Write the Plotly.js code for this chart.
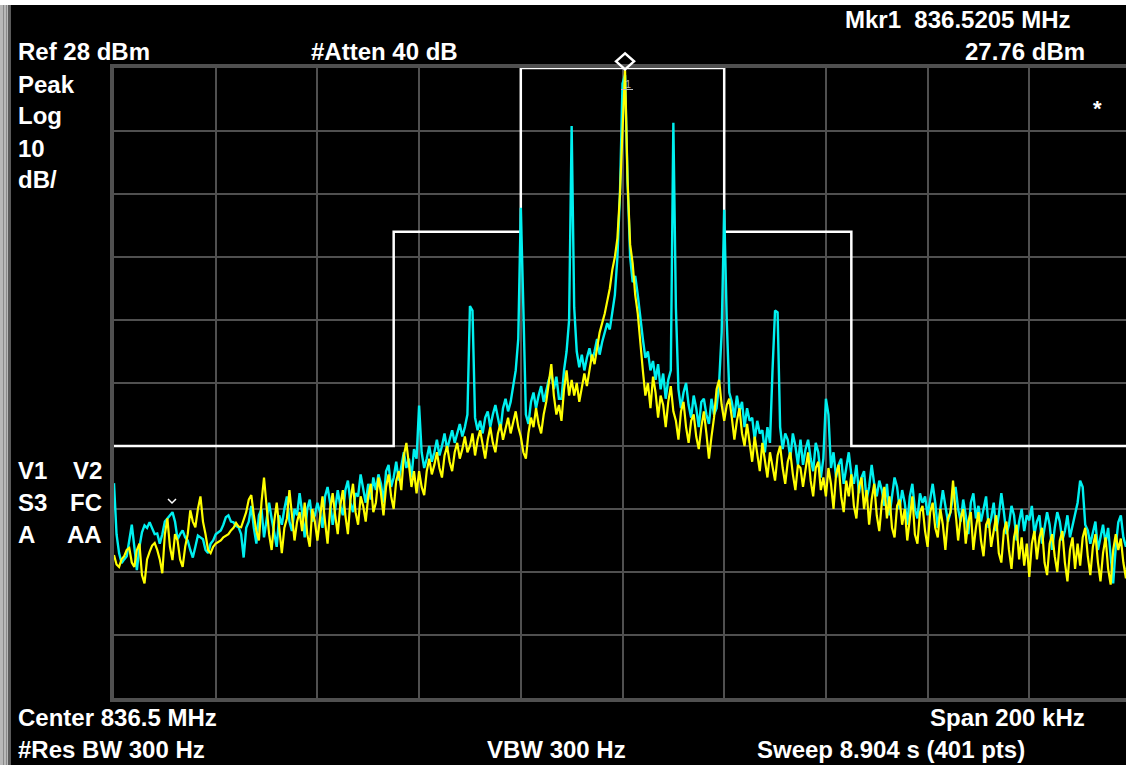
<!DOCTYPE html>
<html><head><meta charset="utf-8">
<script src="https://cdn.plot.ly/plotly-3.0.1.min.js"></script>
<style>html,body{margin:0;padding:0;background:#000;overflow:hidden}#chart{width:1126px;height:765px}</style>
</head><body><div id="chart"></div>
<script>
// ---- analyzer settings ----
const centerMHz = 836.52;      // true centre (shown rounded as 836.5 MHz)
const spanKHz = 200;
const sweepPoints = 401;
const refLevel = 28;
const dbPerDiv = 10;

// ---- trace data (dBm), 401 sweep points ----
const trace2Cyan = [
-37.9,-46,-49,-50.6,-50,-49.5,-47,-44.5,-48,-51.7,
-48,-45.7,-44.6,-45,-44.1,-45.2,-46,-45.9,-47.5,-46,
-44,-43.5,-43,-42.5,-44,-46.8,-46,-45.4,-46.5,-47,
-48.5,-49.7,-48,-46.2,-46.5,-46.8,-48.5,-49,-47.5,-47,
-46,-45.7,-45.4,-44.5,-43.3,-43,-44,-44.1,-44.7,-44.9,
-46,-49.7,-45,-44,-41.5,-45,-47.5,-43,-42,-46.5,
-44,-41,-43.5,-46,-48,-43,-44.5,-42,-40,-44,
-45.5,-42,-43,-39.5,-42.5,-46.5,-42,-40.5,-44,-43,
-41,-42.5,-45,-40,-38.5,-41,-44.5,-42,-39,-41.5,
-43,-39,-37.5,-41,-42.5,-39.5,-40,-36.5,-39,-41,
-38,-40.5,-37,-39,-36.5,-38,-41,-36,-35,-38.5,
-37,-34.5,-37.5,-35,-33,-35.5,-34,-37,-32.5,-34,
-25.6,-33,-35.5,-34,-32,-34.5,-33,-31,-33.5,-32,
-30,-32.5,-31,-29.5,-31.5,-30,-28.5,-30.5,-29,-27,
-9.8,-10.5,-27.5,-29.5,-28,-30,-27.5,-26.5,-29,-27,
-25.5,-27.5,-29.5,-26,-24.5,-26.5,-25,-22.5,-20,-15,
5.8,-10,-27,-28.5,-25,-23.5,-26,-24,-22.5,-25,
-23,-21.5,-20.5,-23,-21,-24.5,-24.5,-20,-17,-12,
18.8,-10,-17,-19.5,-17.5,-20,-18,-16.5,-18.5,-17,
-15,-17.5,-15.5,-14,-12.5,-13.5,-11,-8,-2,8,
25.5,26.9,10,-2,-6,-5,-8,-12,-15,-18,
-17,-20,-18.5,-21.5,-19,-23,-20.5,-24.5,-21.5,-20,
19.3,-10,-23,-26,-23.5,-22,-25.5,-27.5,-24,-26,
-29,-25,-24.5,-27,-28.5,-24.5,-27,-26,-22,-14,
5.5,-12,-23.5,-25,-27.5,-24,-26.5,-25,-29,-26,
-28,-27.5,-31,-28,-30,-29.5,-33,-29,-31.5,-20,
-10.5,-10.8,-29,-32.5,-30,-31,-34,-30,-32,-35,
-31,-35,-32.5,-31,-34,-36,-31.5,-33,-37,-34,
-24.5,-27,-35.5,-33,-37,-35,-34,-38,-35.5,-33,
-36.5,-38,-35,-39.5,-37,-36,-40.5,-38.5,-35,-38,
-40,-37.5,-39,-41.5,-38,-43,-40,-37,-38.5,-42,
-39,-41,-44.5,-40,-38,-42,-43.5,-39.5,-41,-40,
-43,-40.5,-38,-41,-45,-42,-39,-41.5,-44,-42.5,
-40,-38.5,-42,-44,-40.5,-43,-46,-41,-39.5,-43.5,
-41.5,-44,-42,-40,-45,-43.5,-41,-45.5,-43,-39.5,
-42.5,-46,-44.5,-41.5,-43,-47,-44,-42,-45.5,-43,
-43.8,-41.5,-46,-44,-43,-47.5,-45,-42.5,-44.5,-48.5,
-45,-42.5,-44,-47,-45.5,-43,-46.5,-44.5,-42.5,-41,
-37.5,-38.5,-44.5,-45.4,-47.5,-45.5,-44,-48.5,-46.5,-44.5,
-47.5,-45,-49.5,-53.8,-48,-44.1,-43,-46.5,-48,-46,
-45];

const trace1Yellow = [
-49.3,-50.8,-51.2,-50,-49.5,-48.5,-48.2,-50.5,-51.2,-48.5,
-47.5,-52.5,-53.8,-50,-48.8,-47.8,-47.4,-48.5,-50,-52.2,
-46,-43.5,-48,-50.1,-46,-47,-50,-51.2,-48,-46,
-42.2,-44,-44.9,-42,-40,-44,-46,-48.5,-49,-48,
-47.5,-47.2,-47,-46.5,-46.2,-46,-45.4,-45,-44.2,-44.8,
-44.9,-43.5,-42.5,-40.5,-39.8,-43,-45.5,-47,-41,-37,
-42,-46,-48.5,-44,-41,-44.5,-49,-45,-43.5,-39,
-43,-47,-44,-42.5,-45.5,-41,-46,-48,-42,-44,
-47,-43.5,-40,-44,-47.5,-42,-39.5,-43,-46,-41.5,
-39,-43,-46,-40.5,-38,-42.5,-44.5,-40,-41.5,-44,
-40,-38,-42.5,-41,-37,-39.5,-43,-38.5,-36.5,-40,
-42,-37.5,-36,-39,-33.5,-31.5,-35,-38.5,-36,-39.5,
-36,-38.5,-39.8,-36,-34,-36.5,-35,-33,-35.5,-37,
-33.5,-32,-34.5,-36,-33,-31.5,-34,-32.5,-30.5,-33,
-32,-30,-33.5,-31,-29.5,-32,-34,-31,-29,-31.5,
-33,-30,-28.5,-31,-29,-27.5,-30,-28,-26.5,-29,
-30.5,-33,-34,-30,-27.5,-29,-26,-28.5,-30,-27,
-25,-22,-19,-24,-27,-25.5,-28,-23,-20,-24,
-21.5,-24,-22,-25,-23,-20.5,-22.5,-20,-17.5,-19,
-16.5,-14,-12.5,-11,-9,-7,-4,-2,1,8,
18,27.76,10,0,-3,-8,-11,-16,-20,-24,
-22,-26,-21,-23.5,-27.5,-24,-25.5,-29,-25,-22.5,
-26.5,-28,-31,-26.5,-25,-29,-31.5,-28,-27,-30.5,
-32.5,-29,-26.5,-30,-34,-30.5,-27.5,-23,-21.5,-25.5,
-28,-25.5,-24.5,-27.5,-31,-28,-26,-30,-32,-28.5,
-31.5,-34.5,-30.5,-33.5,-36,-31.5,-34,-37,-33,-35.5,
-37.5,-33.5,-32,-35.5,-38,-34.5,-33,-36.5,-39,-35,
-35.5,-38.5,-36,-33,-37.5,-40,-35.5,-34.5,-39,-37,
-40,-35.5,-38,-42,-36.5,-35,-40,-42.5,-37.5,-40,
-36.5,-41.5,-43.5,-38.5,-37,-42,-39,-44.5,-40.5,-38,
-43,-45.5,-41,-38.5,-43.5,-40,-45,-46.5,-41.5,-40.5,
-44.5,-42,-47,-43,-40,-46,-47.5,-42.5,-41.5,-45.5,
-48,-42.5,-41,-45,-46.5,-42,-44.5,-48.5,-43.5,-42.5,
-37.5,-42.5,-47,-43.5,-42,-47.5,-44,-42.5,-48.5,-45,
-42.5,-47,-49.5,-44.5,-43.5,-48,-45.5,-43,-49,-50.5,
-45.5,-44,-48.5,-51.5,-46.5,-44.5,-50,-46.5,-51,-47.5,
-52.8,-47.5,-45.5,-50,-46.5,-45,-50.5,-52.5,-47.5,-46,
-49.5,-52,-47,-45.5,-50.5,-53.5,-48.5,-46.5,-51.5,-47.5,
-51,-46.5,-45,-49.5,-52.5,-48,-46,-50.5,-53.5,-49,
-46.5,-51.5,-54,-48.5,-46,-48.5,-46.7,-50.5,-53,-48.5,
-48];

// ---- limit mask ----
const maskOffsetKHz = [-100,-45,-45,-20,-20,20,20,45,45,100];
const maskLevel     = [-32,-32,2,2,28,28,2,2,-32,-32];

// ---- marker ----
const markerFreqMHz = 836.5205;
const markerLevel = 27.76;

// ---- screen texts ----
const topLeftTexts = ['Ref 28 dBm','Peak','Log','10','dB/'];
const leftColA = ['V1','S3','A'];
const leftColB = ['V2','FC','AA'];

// ---------------------------------------------------------------
const freqMHz = Array.from({length: sweepPoints},
  (_, i) => centerMHz + (-spanKHz/2 + i*spanKHz/(sweepPoints-1))/1000);
const maskMHz = maskOffsetKHz.map(k => centerMHz + k/1000);

const L = 114, T = 68, W = 1126, H = 765, B = 67;
const PW = W - L, PH = H - T - B;
const fullPW = 1017; // full 10-division width (right part off-screen)
const xStart = centerMHz - spanKHz/2000;
const xEnd = xStart + (spanKHz/1000) * PW / fullPW;
const yMin = refLevel - 10*dbPerDiv, yMax = refLevel;
const markerYFrac = (markerLevel - yMin) / (yMax - yMin);

const px = p => (p - L) / PW;
const py = p => (H - B - p) / PH;
const FONT = 'Liberation Sans, Arial, Helvetica, sans-serif';

function txt(text, x, y, anchor, size, color) {
  return {text: text, xref:'paper', yref:'paper', x: px(x), y: py(y),
    xanchor: anchor || 'left', yanchor:'middle', showarrow:false, borderpad:0,
    font:{family:FONT, size: size || 24, color: color || '#ffffff', weight:'bold'}};
}

const annotations = [
  txt(topLeftTexts[0], 17, 51),
  txt(topLeftTexts[1], 17, 84),
  txt(topLeftTexts[2], 17, 116),
  txt(topLeftTexts[3], 17, 148),
  txt(topLeftTexts[4], 17, 179),
  txt('#Atten 40 dB', 310, 51),
  txt('Mkr1\u00a0\u00a0836.5205 MHz', 1071, 19, 'right'),
  txt('27.76 dBm', 1086, 51, 'right'),
  txt('*', 1097, 108, 'center', 22),
  txt(leftColA[0], 17, 471), txt(leftColA[1], 17, 502), txt(leftColA[2], 17, 534),
  txt(leftColB[0], 103, 471, 'right'), txt(leftColB[1], 103, 502, 'right'), txt(leftColB[2], 103, 534, 'right'),
  txt('Center 836.5 MHz', 17, 718),
  txt('Span 200 kHz', 1086, 718, 'right'),
  txt('#Res BW 300 Hz', 17, 749),
  txt('VBW 300 Hz', 486, 749),
  txt('Sweep 8.904 s (401 pts)', 756, 749),
  {text:'1', x: markerFreqMHz, y: markerLevel, xref:'x', yref:'y', showarrow:false,
   yshift:-14, xshift:3, font:{family:FONT, size:11, color:'#bbbbbb'}}
];

const shapes = [
  // top white strip
  {type:'rect', xref:'paper', yref:'paper', x0:px(0), x1:px(W), y0:py(0), y1:py(5),
   fillcolor:'#ffffff', line:{width:0}, layer:'above'},
  // left bevel border
  {type:'rect', xref:'paper', yref:'paper', x0:px(0), x1:px(8), y0:py(5), y1:py(H),
   fillcolor:'#b8b8b8', line:{width:0}},
  {type:'rect', xref:'paper', yref:'paper', x0:px(3), x1:px(4), y0:py(5), y1:py(H),
   fillcolor:'#8a8a8a', line:{width:0}},
  {type:'rect', xref:'paper', yref:'paper', x0:px(6), x1:px(7), y0:py(5), y1:py(H),
   fillcolor:'#8a8a8a', line:{width:0}},
  {type:'rect', xref:'paper', yref:'paper', x0:px(8), x1:px(11), y0:py(5), y1:py(H),
   fillcolor:'#5a5a5a', line:{width:0}},
  // small chevron
  {type:'path', xref:'paper', yref:'paper',
   path:`M ${px(168)} ${py(499)} L ${px(172)} ${py(503)} L ${px(176)} ${py(499)}`,
   line:{color:'#ffffff', width:1.5}},
  // marker diamond (pixel-sized, anchored at the marker)
  {type:'path', xref:'x', yref:'paper', xsizemode:'pixel', ysizemode:'pixel',
   xanchor: markerFreqMHz, yanchor: markerYFrac,
   path:'M -9 8.2 L 0 16.2 L 9 8.2 L 0 0.2 Z', line:{color:'#ffffff', width:2.5}, layer:'above'},
  // underline of marker number
  {type:'line', xref:'x', yref:'paper', xsizemode:'pixel', ysizemode:'pixel',
   xanchor: markerFreqMHz, yanchor: markerYFrac, x0:-4, x1:8, y0:-20, y1:-20,
   line:{color:'#bbbbbb', width:1}, layer:'above'}
];

const data = [
  {x: maskMHz, y: maskLevel, type:'scatter', mode:'lines', line:{color:'#ffffff', width:2.5}, hoverinfo:'skip'},
  {x: freqMHz, y: trace2Cyan, type:'scatter', mode:'lines', line:{color:'#00f0f0', width:2.4}, hoverinfo:'skip'},
  {x: freqMHz, y: trace1Yellow, type:'scatter', mode:'lines', line:{color:'#ffff00', width:2.2}, hoverinfo:'skip'}
];

const layout = {
  width: W, height: H,
  margin: {l: L, r: 0, t: T, b: B, pad: 0},
  paper_bgcolor: '#000000', plot_bgcolor: '#000000',
  showlegend: false,
  xaxis: {range:[xStart, xEnd], tick0: xStart, dtick: spanKHz/10/1000,
    showgrid:true, gridcolor:'#505050', gridwidth:2, zeroline:false,
    showticklabels:false, ticks:'', showline:true, linecolor:'#505050', linewidth:4, mirror:true, fixedrange:true},
  yaxis: {range:[yMin, yMax], tick0: refLevel, dtick: dbPerDiv,
    showgrid:true, gridcolor:'#505050', gridwidth:2, zeroline:false,
    showticklabels:false, ticks:'', showline:true, linecolor:'#505050', linewidth:4, mirror:false, fixedrange:true},
  annotations: annotations,
  shapes: shapes
};

Plotly.newPlot('chart', data, layout, {staticPlot:true, displayModeBar:false});
</script>
</body></html>
